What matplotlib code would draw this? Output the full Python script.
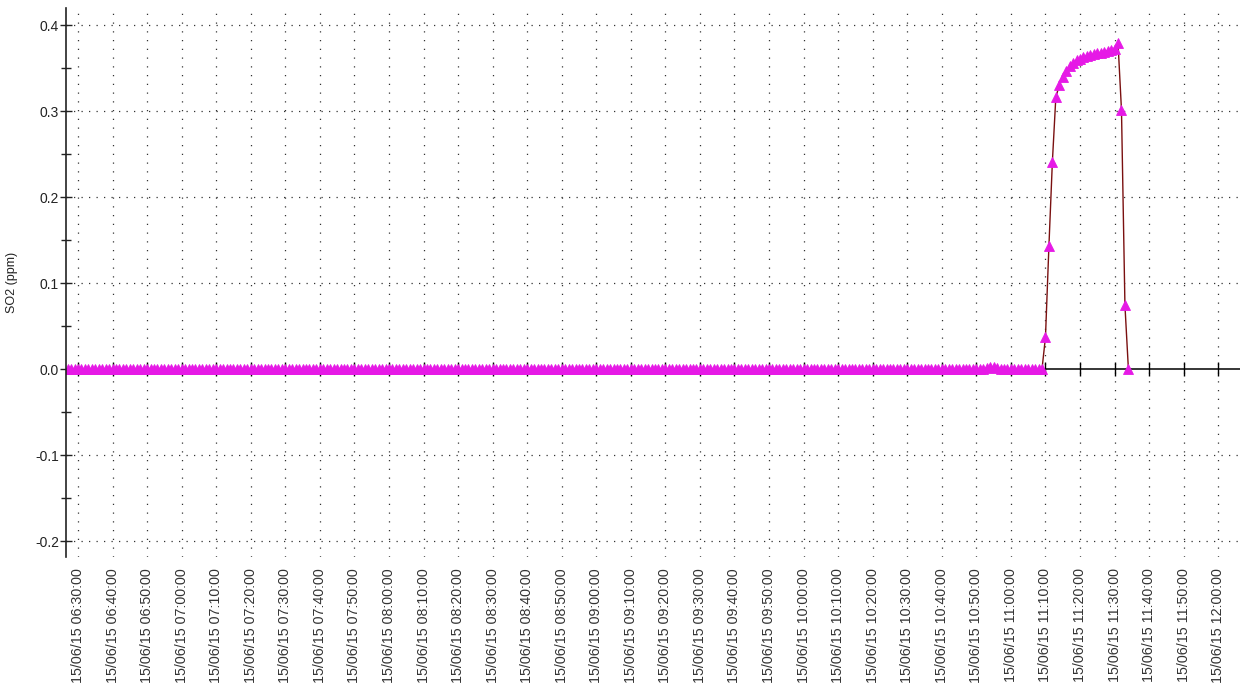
import numpy as np
import pandas as pd
import matplotlib
matplotlib.use("Agg")
import matplotlib.pyplot as plt

plt.rcParams['font.family'] = ['Liberation Sans', 'DejaVu Sans']

# 1-minute SO2 readings (ppm)
start_time = "2015-06-15 06:27"
baseline_early = [0.0] * 266          # 06:27 .. 10:52, flat at zero
baseline_bump = [0.001, 0.002, 0.002, 0.001]  # 10:53 .. 10:56, slight wiggle
baseline_late = [0.0] * 13            # 10:57 .. 11:09
event = [0.037, 0.143, 0.241, 0.316, 0.330, 0.340, 0.347, 0.352, 0.356,
         0.359, 0.361, 0.363, 0.364, 0.365, 0.366, 0.367, 0.368, 0.369,
         0.370, 0.371, 0.372, 0.379, 0.301, 0.074, 0.0]   # 11:10 .. 11:34

so2 = baseline_early + baseline_bump + baseline_late + event
times = pd.date_range(start_time, periods=len(so2), freq="1min")

tick_times = pd.date_range("2015-06-15 06:30", "2015-06-15 12:00", freq="10min")
tick_labels = [t.strftime("%d/%m/%y %H:%M:%S") for t in tick_times]
y_major = [-0.2, -0.1, 0.0, 0.1, 0.2, 0.3, 0.4]
y_minor = [-0.15, -0.05, 0.05, 0.15, 0.25, 0.35]

fig = plt.figure(figsize=(12.42, 6.93), dpi=100)
ax = fig.add_axes([66 / 1242, 1 - 557 / 693, (1240 - 66) / 1242, (557 - 8) / 693])

x_left = pd.Timestamp("2015-06-15 06:26:32")
x_right = pd.Timestamp("2015-06-15 12:06:18")
ax.set_xlim(x_left, x_right)
ax.set_ylim(-0.2186, 0.4198)

# grid
for t in tick_times:
    ax.axvline(t, color="#333333", lw=0.9, ls=(0, (1, 6)), zorder=0)
for yv in y_major:
    if yv != 0.0:
        ax.axhline(yv, color="#333333", lw=0.9, ls=(0, (1, 5)), zorder=0)
ax.axhline(0.0, color="black", lw=1.1, zorder=1)

ax.plot(times, so2, color="#7a1010", lw=1.0, zorder=2,
        marker="^", markersize=6.5, markerfacecolor="#e619e6",
        markeredgecolor="#e619e6", markeredgewidth=0.6)

# spines
for s in ["top", "right", "bottom"]:
    ax.spines[s].set_visible(False)
ax.spines["left"].set_linewidth(1.2)
ax.spines["left"].set_color("#222222")

# y axis
ax.set_yticks(y_major)
ax.set_yticklabels([f"{v:.1f}" for v in y_major])
ax.set_yticks(y_minor, minor=True)
ax.tick_params(axis="y", which="major", direction="inout", length=8, width=1,
               labelsize=10, colors="#222222", pad=1)
ax.tick_params(axis="y", which="minor", direction="inout", length=7, width=1,
               colors="#222222")
ax.set_ylabel("SO2 (ppm)", fontsize=9, labelpad=12, color="#222222")

# x labels at bottom, no marks
ax.set_xticks(tick_times)
ax.set_xticklabels(tick_labels, rotation=90, fontsize=10.3, color="#333333")
ax.tick_params(axis="x", which="major", length=0, pad=8)

# tick marks on the zero line
zero_pos = (0 - ax.get_ylim()[0]) / (ax.get_ylim()[1] - ax.get_ylim()[0])
sec = ax.secondary_xaxis(zero_pos)
sec.spines["bottom"].set_visible(False)
sec.set_xticks(tick_times)
sec.tick_params(axis="x", direction="inout", length=10, width=1, labelbottom=False,
                colors="black")

fig.savefig("out.png", dpi=100, facecolor="white")
